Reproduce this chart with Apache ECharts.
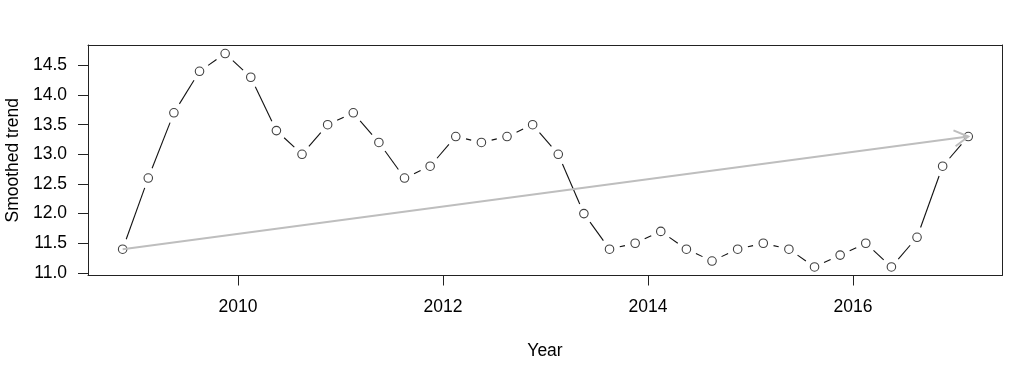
<!DOCTYPE html>
<html><head><meta charset="utf-8">
<script src="https://cdn.jsdelivr.net/npm/echarts@6/dist/echarts.min.js"></script>
<style>html,body{margin:0;padding:0;background:#fff}#c{width:1024px;height:387px}</style>
</head><body><div id="c"></div>
<script>
const years = [2008.875, 2009.125, 2009.375, 2009.625, 2009.875, 2010.125, 2010.375, 2010.625, 2010.875,
  2011.125, 2011.375, 2011.625, 2011.875, 2012.125, 2012.375, 2012.625, 2012.875, 2013.125, 2013.375,
  2013.625, 2013.875, 2014.125, 2014.375, 2014.625, 2014.875, 2015.125, 2015.375, 2015.625, 2015.875,
  2016.125, 2016.375, 2016.625, 2016.875, 2017.125];
const trend = [11.4, 12.6, 13.7, 14.4, 14.7, 14.3, 13.4, 13.0, 13.5, 13.7, 13.2, 12.6, 12.8, 13.3, 13.2,
  13.3, 13.5, 13.0, 12.0, 11.4, 11.5, 11.7, 11.4, 11.2, 11.4, 11.5, 11.4, 11.1, 11.3, 11.5, 11.1, 11.6,
  12.8, 13.3];
const xTicks = [2010, 2012, 2014, 2016];
const yTicks = [11.0, 11.5, 12.0, 12.5, 13.0, 13.5, 14.0, 14.5];
const xLabel = 'Year';
const yLabel = 'Smoothed trend';

const FONT = '"Liberation Sans", Arial, Helvetica, sans-serif';
const FS = 17.5;
const points = years.map((x, i) => [x, trend[i]]);
const segments = [];
for (let i = 0; i < years.length - 1; i++) segments.push([years[i], trend[i], years[i + 1], trend[i + 1]]);
const arrow = [[years[0], trend[0], years[years.length - 1], trend[trend.length - 1]]];

const GAP = 10.5;
function segRender(params, api) {
  const p0 = api.coord([api.value(0), api.value(1)]);
  const p1 = api.coord([api.value(2), api.value(3)]);
  const dx = p1[0] - p0[0], dy = p1[1] - p0[1];
  const len = Math.sqrt(dx * dx + dy * dy);
  if (len <= 2 * GAP) return { type: 'group', children: [] };
  const ux = dx / len, uy = dy / len;
  return {
    type: 'line',
    shape: { x1: p0[0] + ux * GAP, y1: p0[1] + uy * GAP, x2: p1[0] - ux * GAP, y2: p1[1] - uy * GAP },
    style: { stroke: '#111', lineWidth: 1.1 }
  };
}
function arrowRender(params, api) {
  const p0 = api.coord([api.value(0), api.value(1)]);
  const p1 = api.coord([api.value(2), api.value(3)]);
  const dx = p1[0] - p0[0], dy = p1[1] - p0[1];
  const len = Math.sqrt(dx * dx + dy * dy);
  const ux = dx / len, uy = dy / len;
  const L = 16, a = Math.PI / 6;
  const rot = (ang) => [ux * Math.cos(ang) - uy * Math.sin(ang), ux * Math.sin(ang) + uy * Math.cos(ang)];
  const r1 = rot(a), r2 = rot(-a);
  return {
    type: 'group',
    children: [
      { type: 'line', shape: { x1: p0[0], y1: p0[1], x2: p1[0], y2: p1[1] }, style: { stroke: '#bebebe', lineWidth: 2 } },
      { type: 'polyline', shape: { points: [[p1[0] - L * r1[0], p1[1] - L * r1[1]], [p1[0], p1[1]], [p1[0] - L * r2[0], p1[1] - L * r2[1]]] },
        style: { stroke: '#bebebe', lineWidth: 2, fill: null } }
    ]
  };
}

const chart = echarts.init(document.getElementById('c'), null, { renderer: 'canvas' });
const axisLineStyle = { show: true, lineStyle: { color: '#222', width: 1 } };
chart.setOption({
  animation: false,
  backgroundColor: '#fff',
  textStyle: { fontFamily: FONT },
  grid: { left: 88, right: 22, top: 45, bottom: 111.5, containLabel: false, outerBoundsMode: 'none' },
  xAxis: [
    {
      type: 'value', min: 2008.537, max: 2017.454, position: 'bottom', z: 10,
      axisLine: axisLineStyle,
      axisTick: { show: true, length: 10, customValues: xTicks, lineStyle: { color: '#222' } },
      axisLabel: { customValues: xTicks, color: '#000', fontSize: FS, margin: 23, fontFamily: FONT,
        formatter: (v) => String(Math.round(v)) },
      splitLine: { show: false },
      name: xLabel, nameLocation: 'middle', nameGap: 67,
      nameTextStyle: { color: '#000', fontSize: FS, fontFamily: FONT }
    },
    {
      type: 'value', min: 2008.537, max: 2017.454, position: 'top', z: 10,
      axisLine: axisLineStyle, axisTick: { show: false }, axisLabel: { show: false }, splitLine: { show: false }
    }
  ],
  yAxis: [
    {
      type: 'value', min: 10.956, max: 14.844, position: 'left', z: 10,
      axisLine: axisLineStyle,
      axisTick: { show: true, length: 10, customValues: yTicks, lineStyle: { color: '#222' } },
      axisLabel: { customValues: yTicks, color: '#000', fontSize: FS, margin: 21, fontFamily: FONT,
        formatter: (v) => Number(v).toFixed(1) },
      splitLine: { show: false },
      name: yLabel, nameLocation: 'middle', nameGap: 65, nameRotate: 90,
      nameTextStyle: { color: '#000', fontSize: FS, fontFamily: FONT }
    },
    {
      type: 'value', min: 10.956, max: 14.844, position: 'right', z: 10,
      axisLine: axisLineStyle, axisTick: { show: false }, axisLabel: { show: false }, splitLine: { show: false }
    }
  ],
  series: [
    {
      type: 'custom', renderItem: segRender, data: segments, z: 2,
      encode: { x: [0, 2], y: [1, 3] }, silent: true
    },
    {
      type: 'scatter', data: points, symbol: 'circle', symbolSize: 8.5, z: 3,
      itemStyle: { color: 'rgba(255,255,255,0)', borderColor: '#111', borderWidth: 1.1 }
    },
    {
      type: 'custom', renderItem: arrowRender, data: arrow, z: 4,
      encode: { x: [0, 2], y: [1, 3] }, silent: true
    }
  ]
});
</script></body></html>
